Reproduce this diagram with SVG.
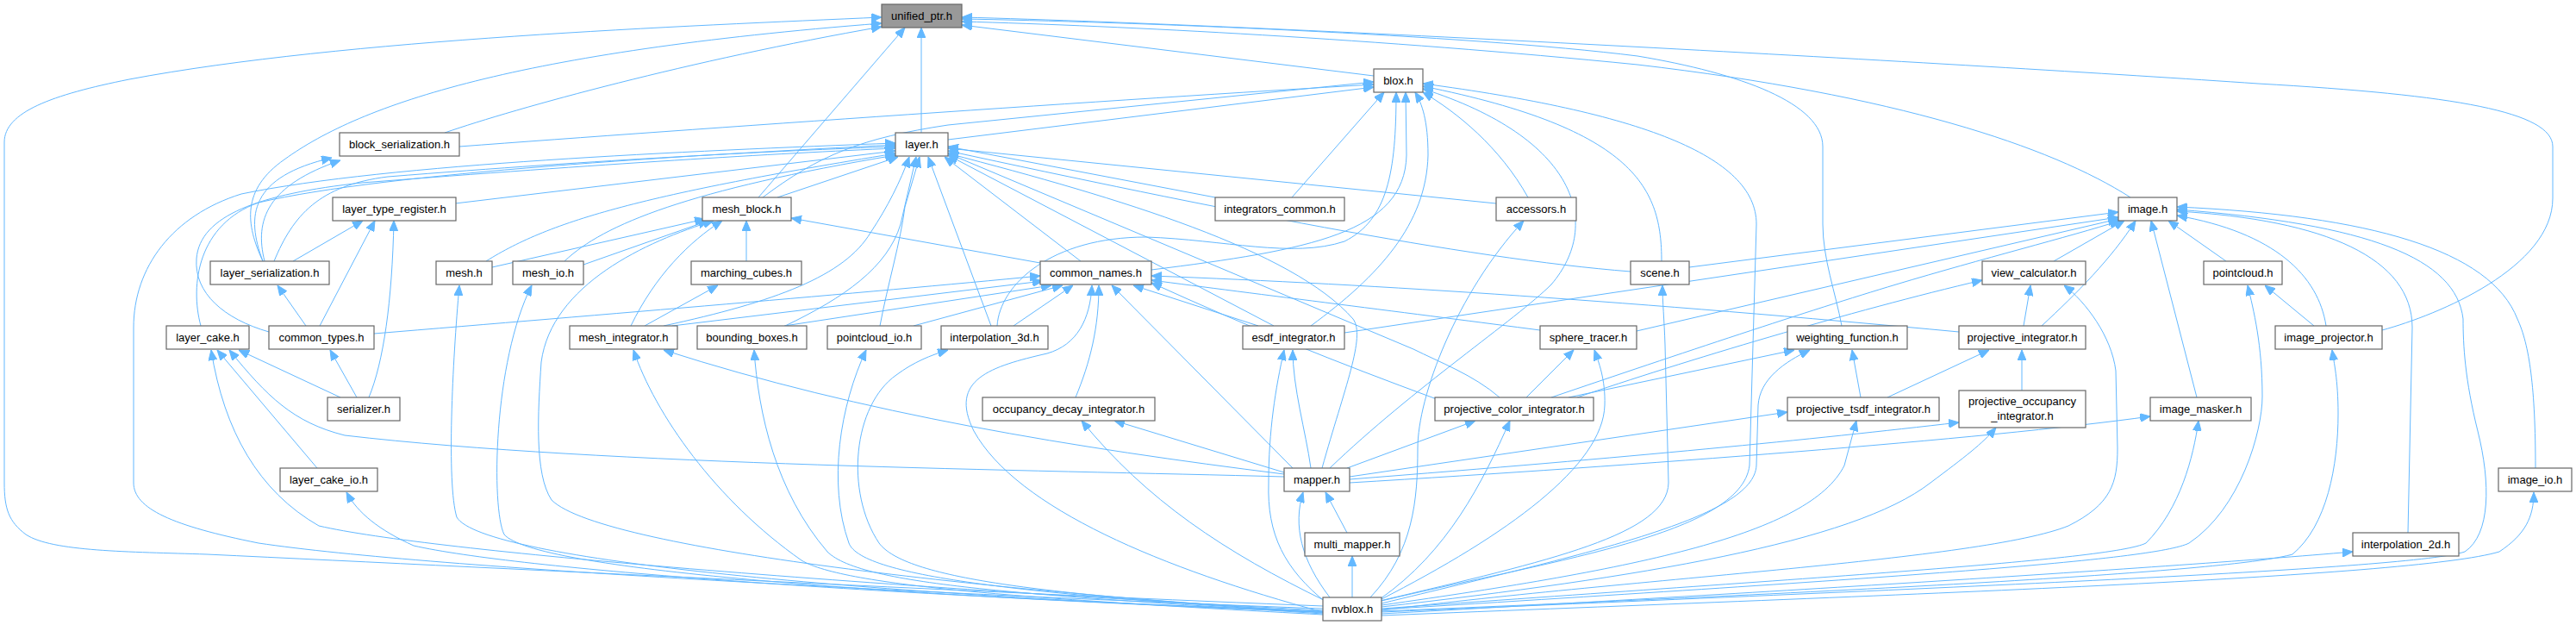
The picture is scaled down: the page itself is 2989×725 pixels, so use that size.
<svg xmlns="http://www.w3.org/2000/svg" width="2989" height="725" viewBox="0 0 2989 725">
<style>
.node rect{fill:#ffffff;stroke:#666666;stroke-width:1.2}
.node.root rect{fill:#999999}
.node text{font-family:"Liberation Sans",Arial,sans-serif;font-size:13px;fill:#000000;text-anchor:middle}
#edges path{fill:none;stroke:#63b8ff;stroke-width:1;marker-end:url(#arr)}
</style>
<defs>
<marker id="arr" viewBox="0 0 12 10" refX="12" refY="5" markerWidth="12" markerHeight="10" markerUnits="userSpaceOnUse" orient="auto">
<path d="M0,0 L12,5 L0,10 z" fill="#63b8ff" stroke="#63b8ff" stroke-width="1"/>
</marker>
</defs>
<rect x="0" y="0" width="2989" height="725" fill="#ffffff"/>
<g id="edges">
<path d="M1535,703 C1200,690 600,660 240,643 C150,640 60,640 30,620 C10,605 5,590 5,560 L5,165 C5,130 60,110 150,92 C400,45 800,30 1023,20"/>
<path d="M2764,383 C2830,365 2962,310 2962,230 L2962,170 C2962,130 2850,110 2620,97 C2300,75 1500,30 1116,20"/>
<path d="M2137,378 C2130,340 2115,300 2115,260 L2115,170 C2115,120 2020,85 1900,65 C1700,40 1300,25 1116,22"/>
<path d="M2472,229 C2380,170 2200,110 1900,75 C1600,45 1300,30 1116,25"/>
<path d="M1594,88 L1116,29"/>
<path d="M1069,154 L1069,32"/>
<path d="M880,229 L1050,32"/>
<path d="M516,154 C600,125 800,70 1023,31"/>
<path d="M305,303 C285,260 280,220 330,185 C420,120 600,60 1023,27"/>
<path d="M533,170 C800,150 1300,115 1594,98"/>
<path d="M1100,162 L1594,101"/>
<path d="M885,229 C950,180 1000,160 1100,145 L1594,95"/>
<path d="M1499,229 L1606,107"/>
<path d="M1157,378 C1160,330 1220,275 1330,275 C1420,278 1500,300 1560,280 C1610,255 1620,200 1620,107"/>
<path d="M1336,313 C1520,290 1630,270 1632,180 L1631,107"/>
<path d="M1521,378 C1600,320 1655,260 1657,180 C1657,140 1650,120 1642,107"/>
<path d="M1543,543 C1640,450 1760,370 1800,330 C1860,260 1830,160 1651,103"/>
<path d="M1773,229 C1740,170 1690,130 1651,107"/>
<path d="M1928,303 C1928,220 1900,150 1651,100"/>
<path d="M1603,697 C1800,650 2020,620 2030,540 L2038,260 C2038,180 1900,130 1651,97"/>
<path d="M305,303 C285,250 290,205 385,183"/>
<path d="M307,303 C295,255 310,215 395,186"/>
<path d="M318,303 C340,250 370,215 450,205 C700,185 900,175 1039,170"/>
<path d="M233,378 C220,330 230,260 300,235 C450,200 800,180 1039,168"/>
<path d="M312,385 C260,370 225,340 228,300 C232,250 300,225 420,212 C700,190 900,178 1039,172"/>
<path d="M1535,706 C1100,690 500,660 300,630 C200,610 155,590 155,560 L155,380 C155,310 200,250 280,225 C450,190 800,175 1039,166"/>
<path d="M528,236 L1039,175"/>
<path d="M564,303 C640,255 750,225 1039,178"/>
<path d="M655,303 C700,260 800,220 1039,180"/>
<path d="M902,229 L1042,182"/>
<path d="M770,378 C900,350 980,320 1010,270 C1030,240 1045,210 1055,182"/>
<path d="M911,378 C980,345 1030,310 1045,260 L1063,182"/>
<path d="M1021,378 C1030,330 1045,280 1050,240 L1067,182"/>
<path d="M1150,378 L1077,182"/>
<path d="M1254,303 L1096,182"/>
<path d="M1478,378 L1100,180"/>
<path d="M1534,543 C1560,450 1585,390 1570,370 C1500,290 1300,230 1100,178"/>
<path d="M1740,461 C1710,435 1670,420 1640,405 L1100,178"/>
<path d="M1892,315 C1700,300 1400,240 1100,175"/>
<path d="M1736,236 L1100,172"/>
<path d="M1410,229 L1100,170"/>
<path d="M340,303 L421,256"/>
<path d="M371,378 L435,256"/>
<path d="M428,461 C445,420 455,350 457,256"/>
<path d="M355,378 L322,331"/>
<path d="M368,543 L252,406"/>
<path d="M395,461 L277,406"/>
<path d="M1490,553 C1200,545 700,540 400,505 C340,490 310,460 266,406"/>
<path d="M1535,708 C1000,680 500,640 370,610 C300,570 260,500 245,406"/>
<path d="M414,461 L383,406"/>
<path d="M571,310 L818,254"/>
<path d="M677,307 L822,256"/>
<path d="M1535,710 C1200,690 700,640 640,580 C620,550 624,480 628,420 C640,330 750,280 828,256"/>
<path d="M732,378 C760,320 800,280 838,256"/>
<path d="M866,303 L866,256"/>
<path d="M1207,305 L918,253"/>
<path d="M748,378 L833,331"/>
<path d="M1535,710 C1000,690 560,650 530,600 C518,560 525,420 533,331"/>
<path d="M1535,710 C1000,690 620,660 585,620 C570,590 572,420 617,331"/>
<path d="M434,387 C700,365 1000,340 1207,320"/>
<path d="M780,378 L1210,326"/>
<path d="M910,378 L1220,331"/>
<path d="M1060,378 L1233,331"/>
<path d="M1176,378 L1245,331"/>
<path d="M1535,710 C1350,660 1180,590 1130,500 C1100,440 1150,425 1215,410 C1250,400 1265,370 1267,331"/>
<path d="M1248,461 C1265,420 1275,380 1275,331"/>
<path d="M1500,543 L1290,331"/>
<path d="M1460,378 L1315,331"/>
<path d="M1667,463 C1550,420 1450,380 1336,328"/>
<path d="M1787,383 C1650,365 1450,340 1336,325"/>
<path d="M2273,385 C1900,350 1600,330 1336,320"/>
<path d="M1521,543 C1515,500 1500,450 1500,406"/>
<path d="M1540,700 C1490,660 1470,620 1472,560 C1472,500 1480,450 1490,406"/>
<path d="M1535,710 C1200,690 1050,670 1020,630 C980,570 990,470 1040,435 C1060,420 1080,412 1100,406"/>
<path d="M1535,711 C1200,690 1000,670 985,630 C960,560 975,470 1005,406"/>
<path d="M1535,712 C1200,690 1000,680 960,640 C900,570 880,480 875,406"/>
<path d="M1535,713 C1200,695 980,680 930,650 C830,580 760,480 735,406"/>
<path d="M1490,550 C1250,520 1000,480 770,406"/>
<path d="M1490,548 L1293,488"/>
<path d="M1540,698 C1420,640 1330,580 1255,488"/>
<path d="M1563,618 L1538,571"/>
<path d="M1543,693 C1510,650 1500,610 1512,571"/>
<path d="M1569,693 L1569,645"/>
<path d="M1563,543 L1712,488"/>
<path d="M1601,695 C1680,640 1720,560 1752,488"/>
<path d="M1771,461 L1826,406"/>
<path d="M1601,696 C1750,620 1860,540 1862,470 C1863,440 1855,420 1850,406"/>
<path d="M1820,461 L2082,406"/>
<path d="M1603,700 C1850,640 2035,600 2038,540 L2040,470 C2042,440 2070,420 2100,406"/>
<path d="M2159,461 L2149,406"/>
<path d="M1566,553 L2074,478"/>
<path d="M1603,702 C1900,660 2100,620 2140,540 L2154,488"/>
<path d="M2190,461 L2308,406"/>
<path d="M2346,453 L2346,406"/>
<path d="M1566,556 C1900,530 2100,510 2273,490"/>
<path d="M1603,704 C1900,670 2150,630 2240,560 C2280,530 2300,515 2316,496"/>
<path d="M1566,560 C1900,540 2300,510 2495,483"/>
<path d="M1603,706 C2100,670 2450,650 2490,630 C2530,590 2545,530 2551,488"/>
<path d="M1830,461 C1950,420 2150,360 2300,325"/>
<path d="M2348,378 L2356,331"/>
<path d="M1603,708 C1900,670 2300,650 2400,610 C2450,585 2457,560 2457,520 L2455,430 C2450,390 2420,350 2395,331"/>
<path d="M1960,310 L2458,246"/>
<path d="M1560,386 L2458,252"/>
<path d="M1899,384 L2458,254"/>
<path d="M1800,461 C1950,410 2100,360 2200,330 C2300,300 2400,275 2460,256"/>
<path d="M2383,303 L2465,256"/>
<path d="M2369,378 C2410,340 2450,300 2478,256"/>
<path d="M2549,461 L2496,256"/>
<path d="M2583,303 L2516,256"/>
<path d="M2699,378 C2690,320 2640,270 2526,250"/>
<path d="M2794,618 L2799,380 C2799,300 2700,255 2526,245"/>
<path d="M1603,710 C2300,680 2800,660 2860,640 C2890,620 2890,560 2875,500 C2860,440 2858,400 2858,370 C2850,300 2750,260 2526,243"/>
<path d="M2942,543 C2942,450 2935,400 2921,370 C2890,290 2750,250 2526,240"/>
<path d="M2685,378 L2628,331"/>
<path d="M1603,707 C2200,670 2500,650 2540,630 C2600,590 2625,500 2625,460 C2625,400 2615,360 2608,331"/>
<path d="M1603,709 C2300,680 2600,660 2660,643 C2700,610 2713,540 2713,480 C2713,440 2708,420 2706,406"/>
<path d="M1603,712 C2000,690 2500,660 2730,640"/>
<path d="M1603,714 C2200,690 2800,670 2900,640 C2930,620 2940,600 2940,571"/>
<path d="M1590,693 C1640,640 1645,580 1645,520 C1645,460 1690,340 1768,256"/>
<path d="M1601,697 C1800,650 1935,620 1936,560 L1932,400 C1931,370 1929,350 1929,331"/>
<path d="M1535,709 C1000,690 600,660 480,633 C440,615 415,595 402,571"/>
</g>
<g id="n_unified_ptr" class="node root"><rect x="1023" y="5" width="93" height="27"/><text x="1069.5" y="23">unified_ptr.h</text></g>
<g id="n_blox" class="node"><rect x="1594" y="80" width="57" height="27"/><text x="1622.5" y="98">blox.h</text></g>
<g id="n_block_serialization" class="node"><rect x="394" y="154" width="139" height="27"/><text x="463.5" y="172">block_serialization.h</text></g>
<g id="n_layer" class="node"><rect x="1039" y="154" width="61" height="27"/><text x="1069.5" y="172">layer.h</text></g>
<g id="n_layer_type_register" class="node"><rect x="386" y="229" width="143" height="27"/><text x="457.5" y="247">layer_type_register.h</text></g>
<g id="n_mesh_block" class="node"><rect x="815" y="229" width="103" height="27"/><text x="866.5" y="247">mesh_block.h</text></g>
<g id="n_integrators_common" class="node"><rect x="1410" y="229" width="150" height="27"/><text x="1485" y="247">integrators_common.h</text></g>
<g id="n_accessors" class="node"><rect x="1736" y="229" width="93" height="27"/><text x="1782.5" y="247">accessors.h</text></g>
<g id="n_image" class="node"><rect x="2458" y="229" width="68" height="27"/><text x="2492" y="247">image.h</text></g>
<g id="n_layer_serialization" class="node"><rect x="244" y="303" width="138" height="27"/><text x="313" y="321">layer_serialization.h</text></g>
<g id="n_mesh" class="node"><rect x="506" y="303" width="65" height="27"/><text x="538.5" y="321">mesh.h</text></g>
<g id="n_mesh_io" class="node"><rect x="595" y="303" width="82" height="27"/><text x="636" y="321">mesh_io.h</text></g>
<g id="n_marching_cubes" class="node"><rect x="802" y="303" width="128" height="27"/><text x="866" y="321">marching_cubes.h</text></g>
<g id="n_common_names" class="node"><rect x="1207" y="303" width="129" height="27"/><text x="1271.5" y="321">common_names.h</text></g>
<g id="n_scene" class="node"><rect x="1892" y="303" width="68" height="27"/><text x="1926" y="321">scene.h</text></g>
<g id="n_view_calculator" class="node"><rect x="2300" y="303" width="120" height="27"/><text x="2360" y="321">view_calculator.h</text></g>
<g id="n_pointcloud" class="node"><rect x="2557" y="303" width="91" height="27"/><text x="2602.5" y="321">pointcloud.h</text></g>
<g id="n_layer_cake" class="node"><rect x="193" y="378" width="96" height="27"/><text x="241" y="396">layer_cake.h</text></g>
<g id="n_common_types" class="node"><rect x="312" y="378" width="122" height="27"/><text x="373" y="396">common_types.h</text></g>
<g id="n_mesh_integrator" class="node"><rect x="661" y="378" width="125" height="27"/><text x="723.5" y="396">mesh_integrator.h</text></g>
<g id="n_bounding_boxes" class="node"><rect x="809" y="378" width="127" height="27"/><text x="872.5" y="396">bounding_boxes.h</text></g>
<g id="n_pointcloud_io" class="node"><rect x="960" y="378" width="109" height="27"/><text x="1014.5" y="396">pointcloud_io.h</text></g>
<g id="n_interpolation_3d" class="node"><rect x="1092" y="378" width="124" height="27"/><text x="1154" y="396">interpolation_3d.h</text></g>
<g id="n_esdf_integrator" class="node"><rect x="1442" y="378" width="118" height="27"/><text x="1501" y="396">esdf_integrator.h</text></g>
<g id="n_sphere_tracer" class="node"><rect x="1787" y="378" width="112" height="27"/><text x="1843" y="396">sphere_tracer.h</text></g>
<g id="n_weighting_function" class="node"><rect x="2074" y="378" width="139" height="27"/><text x="2143.5" y="396">weighting_function.h</text></g>
<g id="n_projective_integrator" class="node"><rect x="2273" y="378" width="147" height="27"/><text x="2346.5" y="396">projective_integrator.h</text></g>
<g id="n_image_projector" class="node"><rect x="2640" y="378" width="124" height="27"/><text x="2702" y="396">image_projector.h</text></g>
<g id="n_serializer" class="node"><rect x="380" y="461" width="84" height="27"/><text x="422" y="479">serializer.h</text></g>
<g id="n_occupancy_decay_integrator" class="node"><rect x="1140" y="461" width="200" height="27"/><text x="1240" y="479">occupancy_decay_integrator.h</text></g>
<g id="n_projective_color_integrator" class="node"><rect x="1665" y="461" width="184" height="27"/><text x="1757" y="479">projective_color_integrator.h</text></g>
<g id="n_projective_tsdf_integrator" class="node"><rect x="2074" y="461" width="176" height="27"/><text x="2162" y="479">projective_tsdf_integrator.h</text></g>
<g id="n_projective_occupancy_integrator" class="node"><rect x="2273" y="453" width="147" height="43"/><text x="2346.5" y="470">projective_occupancy</text><text x="2346.5" y="487">_integrator.h</text></g>
<g id="n_image_masker" class="node"><rect x="2495" y="461" width="117" height="27"/><text x="2553.5" y="479">image_masker.h</text></g>
<g id="n_layer_cake_io" class="node"><rect x="325" y="543" width="113" height="27"/><text x="381.5" y="561">layer_cake_io.h</text></g>
<g id="n_mapper" class="node"><rect x="1490" y="543" width="76" height="27"/><text x="1528" y="561">mapper.h</text></g>
<g id="n_image_io" class="node"><rect x="2899" y="543" width="85" height="27"/><text x="2941.5" y="561">image_io.h</text></g>
<g id="n_multi_mapper" class="node"><rect x="1514" y="618" width="110" height="27"/><text x="1569" y="636">multi_mapper.h</text></g>
<g id="n_interpolation_2d" class="node"><rect x="2730" y="618" width="123" height="27"/><text x="2791.5" y="636">interpolation_2d.h</text></g>
<g id="n_nvblox" class="node"><rect x="1535" y="693" width="68" height="27"/><text x="1569" y="711">nvblox.h</text></g>
</svg>
